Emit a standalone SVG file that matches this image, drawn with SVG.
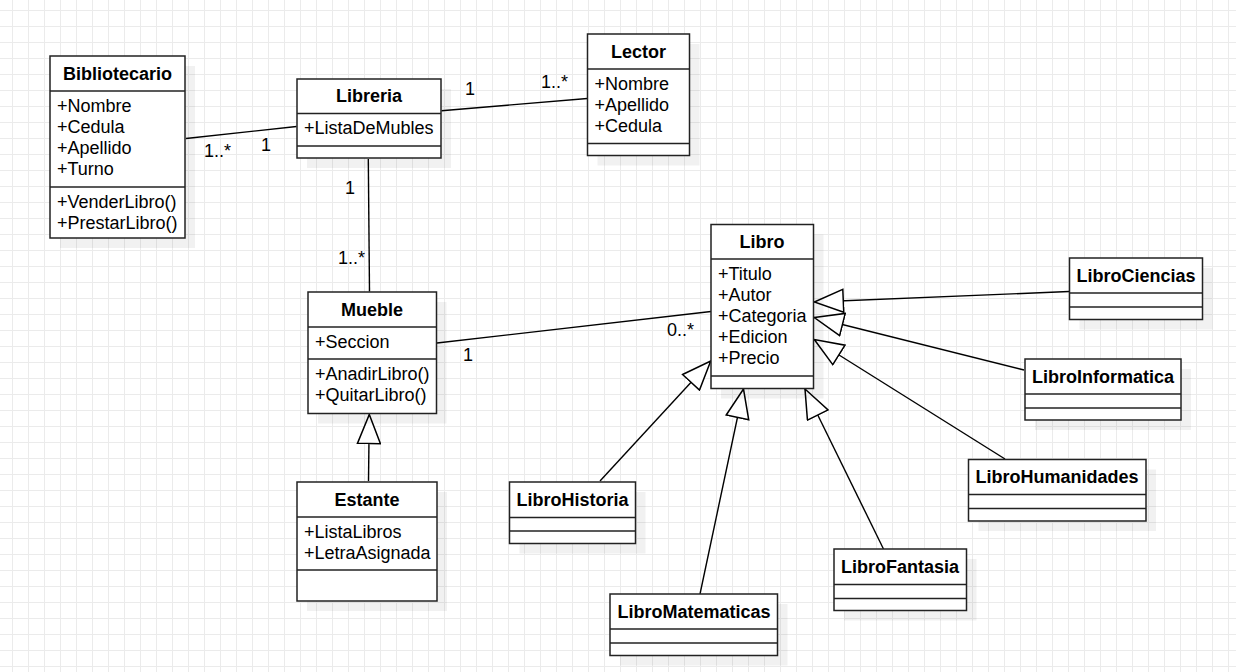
<svg xmlns="http://www.w3.org/2000/svg" width="1236" height="672" viewBox="0 0 1236 672">
<defs>
<pattern id="grid" patternUnits="userSpaceOnUse" x="12" y="10" width="16" height="16">
<path d="M0,0.5 H16 M0.5,0 V16" fill="none" stroke="#ebebeb" stroke-width="1"/>
</pattern>
<marker id="gen" viewBox="0 0 31 25" refX="30" refY="12.5" markerWidth="31" markerHeight="25" markerUnits="userSpaceOnUse" orient="auto">
<path d="M1,1 L30,12.5 L1,24 Z" fill="#fff" stroke="#000" stroke-width="1.5"/>
</marker>
</defs>
<style>
.box{fill:#fff;stroke:#222;stroke-width:1.5}
.sh{fill:#000;fill-opacity:0.055}
.div{stroke:#222;stroke-width:1.5}
.t{font-family:"Liberation Sans",Arial,sans-serif;font-size:18px;font-weight:bold;text-anchor:middle;fill:#000}
.a{font-family:"Liberation Sans",Arial,sans-serif;font-size:18px;fill:#000}
.lbl{font-family:"Liberation Sans",Arial,sans-serif;font-size:18px;fill:#000}
.c{fill:none;stroke:#000;stroke-width:1.4}
</style>
<rect width="1236" height="672" fill="#fff"/>
<rect width="1236" height="672" fill="url(#grid)"/>

<g id="connectors">
<path class="c" d="M186,138.5 L296.5,126.5"/>
<path class="c" d="M441.5,110.7 L587.3,98.5"/>
<path class="c" d="M368.3,159 L369.5,291.5"/>
<path class="c" d="M437,343 L711,311.5"/>
<path class="c" d="M368.5,481 L369.3,414.5" marker-end="url(#gen)"/>
<path class="c" d="M600,481 L710.7,361" marker-end="url(#gen)"/>
<path class="c" d="M700,594 L743.5,389" marker-end="url(#gen)"/>
<path class="c" d="M883.5,549 L805,389" marker-end="url(#gen)"/>
<path class="c" d="M1069,291.5 L814.3,302" marker-end="url(#gen)"/>
<path class="c" d="M1024,370 L814.3,317.5" marker-end="url(#gen)"/>
<path class="c" d="M1005,459 L814.3,339.5" marker-end="url(#gen)"/>
<text class="lbl" x="204" y="157">1..*</text>
<text class="lbl" x="261" y="151">1</text>
<text class="lbl" x="465" y="95">1</text>
<text class="lbl" x="541" y="88">1..*</text>
<text class="lbl" x="345" y="194">1</text>
<text class="lbl" x="338" y="264">1..*</text>
<text class="lbl" x="463" y="361">1</text>
<text class="lbl" x="667" y="336">0..*</text>
</g>

<g id="Bibliotecario">
<rect class="sh" x="60" y="66" width="135" height="182"/>
<rect class="box" x="50" y="56" width="135" height="182"/>
<line class="div" x1="50" y1="91" x2="185" y2="91"/>
<line class="div" x1="50" y1="187" x2="185" y2="187"/>
<text class="t" x="117.5" y="80">Bibliotecario</text>
<text class="a" x="57" y="112">+Nombre</text>
<text class="a" x="57" y="133">+Cedula</text>
<text class="a" x="57" y="154">+Apellido</text>
<text class="a" x="57" y="175">+Turno</text>
<text class="a" x="57" y="208">+VenderLibro()</text>
<text class="a" x="57" y="229">+PrestarLibro()</text>
</g>

<g id="Libreria">
<rect class="sh" x="307" y="89" width="144" height="79"/>
<rect class="box" x="297" y="79" width="144" height="79"/>
<line class="div" x1="297" y1="113.5" x2="441" y2="113.5"/>
<line class="div" x1="297" y1="146" x2="441" y2="146"/>
<text class="t" x="369" y="102">Libreria</text>
<text class="a" x="304" y="134">+ListaDeMubles</text>
</g>

<g id="Lector">
<rect class="sh" x="597.5" y="44" width="102" height="121.5"/>
<rect class="box" x="587.5" y="34" width="102" height="121.5"/>
<line class="div" x1="587.5" y1="69" x2="689.5" y2="69"/>
<line class="div" x1="587.5" y1="143.5" x2="689.5" y2="143.5"/>
<text class="t" x="638.5" y="58">Lector</text>
<text class="a" x="594.5" y="89.5">+Nombre</text>
<text class="a" x="594.5" y="110.5">+Apellido</text>
<text class="a" x="594.5" y="131.5">+Cedula</text>
</g>

<g id="Mueble">
<rect class="sh" x="318" y="302" width="128.5" height="121.5"/>
<rect class="box" x="308" y="292" width="128.5" height="121.5"/>
<line class="div" x1="308" y1="327" x2="436.5" y2="327"/>
<line class="div" x1="308" y1="359" x2="436.5" y2="359"/>
<text class="t" x="372" y="315.5">Mueble</text>
<text class="a" x="315" y="347.5">+Seccion</text>
<text class="a" x="315" y="380">+AnadirLibro()</text>
<text class="a" x="315" y="401">+QuitarLibro()</text>
</g>

<g id="Estante">
<rect class="sh" x="307" y="492" width="140" height="119"/>
<rect class="box" x="297" y="482" width="140" height="119"/>
<line class="div" x1="297" y1="517" x2="437" y2="517"/>
<line class="div" x1="297" y1="570" x2="437" y2="570"/>
<text class="t" x="367" y="505.5">Estante</text>
<text class="a" x="304" y="538">+ListaLibros</text>
<text class="a" x="304" y="559">+LetraAsignada</text>
</g>

<g id="Libro">
<rect class="sh" x="721" y="234.5" width="102.5" height="164"/>
<rect class="box" x="711" y="224.5" width="102.5" height="164"/>
<line class="div" x1="711" y1="259" x2="813.5" y2="259"/>
<line class="div" x1="711" y1="376" x2="813.5" y2="376"/>
<text class="t" x="762" y="248">Libro</text>
<text class="a" x="718" y="280">+Titulo</text>
<text class="a" x="718" y="301">+Autor</text>
<text class="a" x="718" y="322">+Categoria</text>
<text class="a" x="718" y="343">+Edicion</text>
<text class="a" x="718" y="364">+Precio</text>
</g>

<g id="LibroCiencias">
<rect class="sh" x="1079.5" y="268" width="133" height="61.5"/>
<rect class="box" x="1069.5" y="258" width="133" height="61.5"/>
<line class="div" x1="1069.5" y1="293" x2="1202.5" y2="293"/>
<line class="div" x1="1069.5" y1="307" x2="1202.5" y2="307"/>
<text class="t" x="1136" y="282">LibroCiencias</text>
</g>

<g id="LibroInformatica">
<rect class="sh" x="1035" y="369" width="156" height="61"/>
<rect class="box" x="1025" y="359" width="156" height="61"/>
<line class="div" x1="1025" y1="394" x2="1181" y2="394"/>
<line class="div" x1="1025" y1="408" x2="1181" y2="408"/>
<text class="t" x="1103" y="383">LibroInformatica</text>
</g>

<g id="LibroHumanidades">
<rect class="sh" x="978.5" y="469.5" width="177.5" height="61.5"/>
<rect class="box" x="968.5" y="459.5" width="177.5" height="61.5"/>
<line class="div" x1="968.5" y1="494.5" x2="1146" y2="494.5"/>
<line class="div" x1="968.5" y1="508.5" x2="1146" y2="508.5"/>
<text class="t" x="1057" y="483">LibroHumanidades</text>
</g>

<g id="LibroHistoria">
<rect class="sh" x="519.5" y="492" width="126" height="61.5"/>
<rect class="box" x="509.5" y="482" width="126" height="61.5"/>
<line class="div" x1="509.5" y1="517.5" x2="635.5" y2="517.5"/>
<line class="div" x1="509.5" y1="531" x2="635.5" y2="531"/>
<text class="t" x="572.5" y="506">LibroHistoria</text>
</g>

<g id="LibroMatematicas">
<rect class="sh" x="620" y="604" width="167.5" height="61.5"/>
<rect class="box" x="610" y="594" width="167.5" height="61.5"/>
<line class="div" x1="610" y1="629" x2="777.5" y2="629"/>
<line class="div" x1="610" y1="643" x2="777.5" y2="643"/>
<text class="t" x="694" y="618">LibroMatematicas</text>
</g>

<g id="LibroFantasia">
<rect class="sh" x="844" y="559" width="132.5" height="61.5"/>
<rect class="box" x="834" y="549" width="132.5" height="61.5"/>
<line class="div" x1="834" y1="584.5" x2="966.5" y2="584.5"/>
<line class="div" x1="834" y1="598.5" x2="966.5" y2="598.5"/>
<text class="t" x="900" y="573">LibroFantasia</text>
</g>
</svg>
